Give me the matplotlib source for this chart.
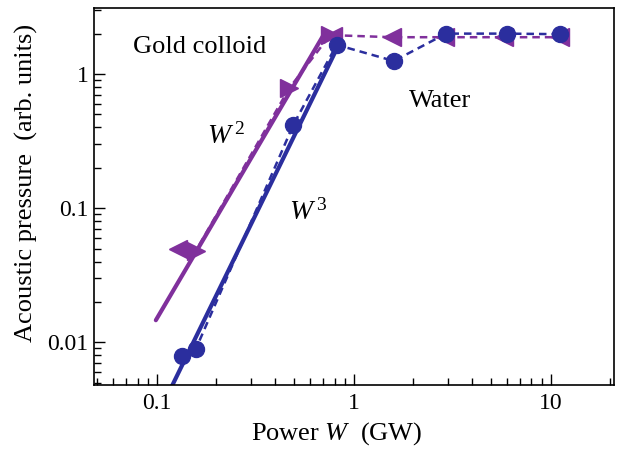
import matplotlib
matplotlib.use("Agg")
import matplotlib.pyplot as plt
from matplotlib.ticker import LogLocator, NullFormatter, FixedLocator, FixedFormatter

plt.rcParams['font.family'] = ['Liberation Serif', 'DejaVu Serif']
plt.rcParams['mathtext.fontset'] = 'custom'
plt.rcParams['mathtext.it'] = 'Liberation Serif:italic'
plt.rcParams['mathtext.rm'] = 'Liberation Serif'

BLUE = "#2b2e9e"
PURPLE = "#80309c"

# gold colloid (circles)
gold_w = [0.134, 0.158, 0.495, 0.82, 1.6, 2.95, 6.0, 11.2]
gold_p = [0.0079, 0.0089, 0.42, 1.65, 1.25, 2.0, 2.0, 1.98]

# water (triangles), one measurement path
water_w = [0.128, 0.158, 0.47, 0.76, 1.57, 2.9, 5.8, 11.2]
water_p = [0.050, 0.048, 0.78, 1.95, 1.88, 1.88, 1.88, 1.88]
# marker direction for each water point
water_dir = ['<', '>', '>', '>', '<', '<', '<', '<']
# extra reverse-scan point at the knee
water_knee_w = [0.79]
water_knee_p = [1.92]

# power-law guide lines
fit_w2_x = [0.099, 0.71]
fit_w2_y = [0.0146, 2.0]
fit_w3_x = [0.115, 0.84]
fit_w3_y = [0.0042, 1.65]

fig = plt.figure(figsize=(6.18, 4.49), dpi=100)
ax = fig.add_axes([0.152, 0.1425, 0.8415, 0.8395])

ax.plot(fit_w2_x, fit_w2_y, color=PURPLE, lw=3.0, solid_capstyle='round')
ax.plot(fit_w3_x, fit_w3_y, color=BLUE, lw=3.0, solid_capstyle='round')

ax.plot(water_w, water_p, color=PURPLE, lw=1.8, ls=(0, (3, 2)))
for w, p, m in zip(water_w, water_p, water_dir):
    ax.plot([w], [p], ls='none', marker=m, ms=13, mec=PURPLE, mfc=PURPLE)
ax.plot(water_knee_w, water_knee_p, ls='none', marker='<', ms=13, mec=PURPLE, mfc=PURPLE)

ax.plot(gold_w, gold_p, color=BLUE, lw=1.8, ls=(0, (3, 2)),
        marker='o', ms=11.5, mec=BLUE, mfc=BLUE)

ax.set_xscale('log')
ax.set_yscale('log')
ax.set_xlim(0.048, 21)
ax.set_ylim(0.0048, 3.1)

ax.xaxis.set_major_locator(FixedLocator([0.1, 1, 10]))
ax.xaxis.set_major_formatter(FixedFormatter(['0.1', '1', '10']))
ax.yaxis.set_major_locator(FixedLocator([0.01, 0.1, 1]))
ax.yaxis.set_major_formatter(FixedFormatter(['0.01', '0.1', '1']))
for axis in (ax.xaxis, ax.yaxis):
    axis.set_minor_locator(LogLocator(base=10, subs=range(2, 10), numticks=20))
    axis.set_minor_formatter(NullFormatter())

ax.tick_params(which='major', direction='in', length=8, width=1, labelsize=17)
ax.tick_params(axis='y', which='major', pad=4)
ax.tick_params(axis='x', which='major', pad=6)
ax.tick_params(which='minor', direction='in', length=5, width=1)
ax.tick_params(top=False, right=False, which='both')
for s in ax.spines.values():
    s.set_linewidth(1.2)

ax.set_xlabel('Power $W$  (GW)', fontsize=19)
ax.set_ylabel('Acoustic pressure  (arb. units)', fontsize=19)
ax.xaxis.set_label_coords(0.467, -0.093)
ax.yaxis.set_label_coords(-0.108, 0.536)

ax.text(0.0755, 1.59, 'Gold colloid', fontsize=19, va='center')
ax.text(1.92, 0.63, 'Water', fontsize=19, va='center')
ax.text(0.18, 0.34, '$W^{\\,2}$', fontsize=20, va='center')
ax.text(0.47, 0.093, '$W^{\\,3}$', fontsize=20, va='center')

fig.savefig("out.png", dpi=100)
